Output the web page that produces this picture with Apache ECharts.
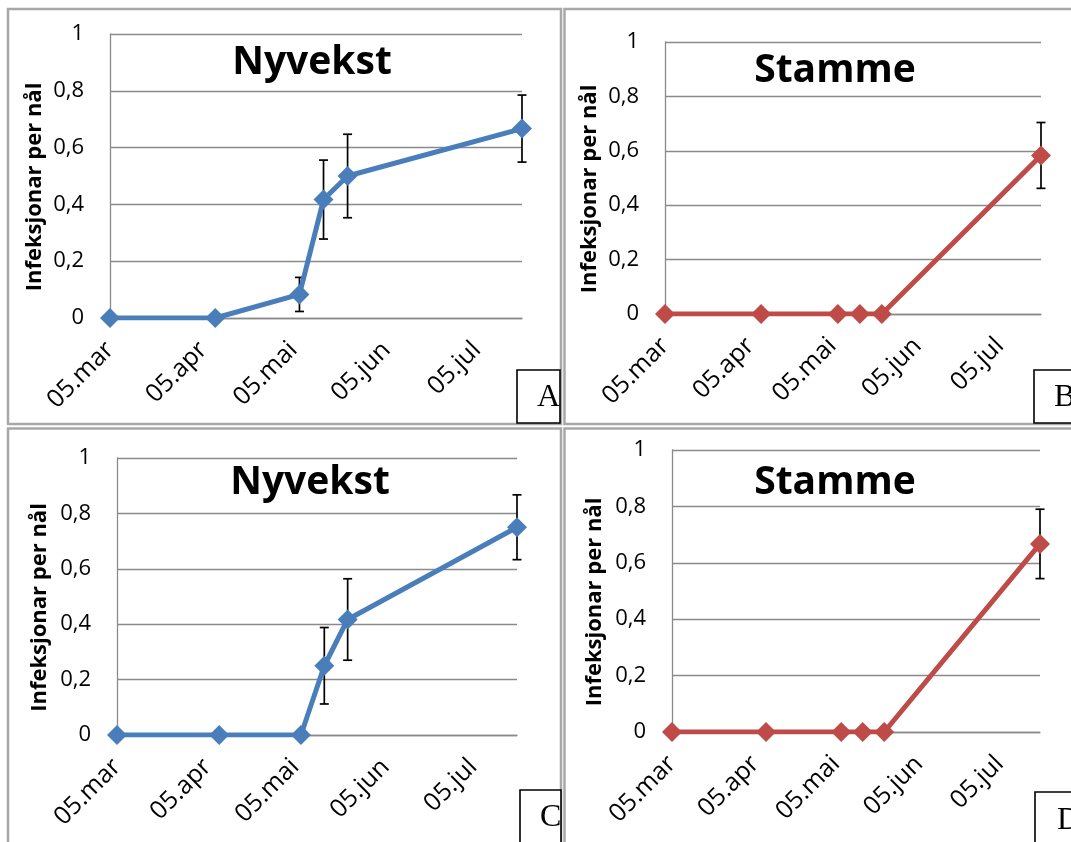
<!DOCTYPE html>
<html>
<head>
<meta charset="utf-8">
<script src="https://cdn.jsdelivr.net/npm/echarts@6/dist/echarts.min.js"></script>
<style>
html,body{margin:0;padding:0;background:#fff;}
#chart{width:1071px;height:842px;}
</style>
</head>
<body>
<div id="chart"></div>
<script>
// ---- data ----
const sampleDates = ['2011-03-05','2011-04-09','2011-05-07','2011-05-15','2011-05-23','2011-07-20'];
const tickDates = ['2011-03-05','2011-04-05','2011-05-05','2011-06-05','2011-07-05'];
const tickLabels = ['05.mar','05.apr','05.mai','05.jun','05.jul'];
const yTickLabels = ['0','0,2','0,4','0,6','0,8','1'];
const panelTitles = ['Nyvekst','Stamme','Nyvekst','Stamme'];
const panelLetters = ['A','B','C','D'];
const yAxisName = 'Infeksjonar per nål';

const valuesA = [0, 0, 0.083, 0.417, 0.5, 0.667];
const errorsA = [0, 0, 0.06, 0.139, 0.147, 0.118];
const valuesB = [0, 0, 0, 0, 0, 0.583];
const errorsB = [0, 0, 0, 0, 0, 0.121];
const valuesC = [0, 0, 0, 0.25, 0.417, 0.75];
const errorsC = [0, 0, 0, 0.138, 0.147, 0.117];
const valuesD = [0, 0, 0, 0, 0, 0.667];
const errorsD = [0, 0, 0, 0, 0, 0.123];

// ---- layout / style ----
const BLUE = '#4A7EBB', RED = '#BE4B48', GRID = '#8a8a8a';
const FONT = '"Open Sans", sans-serif';
const panels = [
  {vals: valuesA, errs: errorsA, color: BLUE, grid: {left: 110, top: 34, width: 412, height: 284}, title: {x: 307, y: 38}, nameGap: 64},
  {vals: valuesB, errs: errorsB, color: RED,  grid: {left: 665, top: 42, width: 376, height: 272}, title: {x: 830, y: 46}, nameGap: 64},
  {vals: valuesC, errs: errorsC, color: BLUE, grid: {left: 117, top: 458, width: 400, height: 277}, title: {x: 305, y: 458}, nameGap: 66},
  {vals: valuesD, errs: errorsD, color: RED,  grid: {left: 672, top: 450, width: 368, height: 282}, title: {x: 830, y: 458}, nameGap: 66}
];

// days since the first sample date (value axis in days)
function dayNum(s) { const p = s.split('-').map(Number); return Math.round(Date.UTC(p[0], p[1]-1, p[2]) / 86400000); }
const day0 = dayNum(sampleDates[0]);
const dayOf = s => dayNum(s) - day0;
const tickDays = tickDates.map(dayOf);

const option = {
  backgroundColor: '#fff',
  animation: false,
  title: panels.map((p, i) => ({
    text: panelTitles[i], left: p.title.x, top: p.title.y, textAlign: 'center',
    textStyle: {fontFamily: FONT, fontWeight: 'bold', fontSize: 39, color: '#000'}
  })),
  grid: panels.map(p => Object.assign({containLabel: false}, p.grid)),
  xAxis: panels.map((p, i) => ({
    type: 'value', gridIndex: i,
    min: 0, max: dayOf(sampleDates[sampleDates.length-1]),
    axisLine: {show: true, onZero: false, lineStyle: {color: GRID, width: 1.3}},
    axisTick: {show: false},
    splitLine: {show: false},
    axisLabel: {
      customValues: tickDays, rotate: 45, margin: 28, fontFamily: FONT, fontSize: 25, color: '#000',
      hideOverlap: false,
      formatter: v => { const k = tickDays.indexOf(Math.round(v)); return k >= 0 ? tickLabels[k] : ''; }
    }
  })),
  yAxis: panels.map((p, i) => ({
    type: 'value', gridIndex: i, min: 0, max: 1, interval: 0.2,
    name: yAxisName, nameLocation: 'middle', nameRotate: 90, nameGap: p.nameGap,
    nameTextStyle: {fontFamily: FONT, fontWeight: 'bold', fontSize: 22, color: '#000', padding: [0, 22, 0, 0]},
    axisLine: {show: true, lineStyle: {color: GRID, width: 1.3}},
    axisTick: {show: false},
    splitLine: {show: true, lineStyle: {color: GRID, width: 1.3}},
    axisLabel: {margin: 26, fontFamily: FONT, fontSize: 22, color: '#000',
      formatter: v => yTickLabels[Math.round(v / 0.2)]}
  })),
  series: [],
  graphic: []
};

panels.forEach((p, i) => {
  option.series.push({
    type: 'custom', xAxisIndex: i, yAxisIndex: i, z: 2,
    data: sampleDates.map((d, k) => [dayOf(d), p.vals[k], p.errs[k]]),
    encode: {x: 0, y: 1},
    renderItem: (params, api) => {
      const x = api.value(0), y = api.value(1), e = api.value(2);
      if (!e) return null;
      const t = api.coord([x, y + e]), b = api.coord([x, y - e]);
      const w = 4.5, st = {stroke: '#000', lineWidth: 1.7};
      return {type: 'group', children: [
        {type: 'line', shape: {x1: t[0], y1: t[1], x2: b[0], y2: b[1]}, style: st},
        {type: 'line', shape: {x1: t[0]-w, y1: t[1], x2: t[0]+w, y2: t[1]}, style: st},
        {type: 'line', shape: {x1: b[0]-w, y1: b[1], x2: b[0]+w, y2: b[1]}, style: st}
      ]};
    }
  });
  option.series.push({
    type: 'line', xAxisIndex: i, yAxisIndex: i, z: 3,
    data: sampleDates.map((d, k) => [dayOf(d), p.vals[k]]),
    symbol: 'diamond', symbolSize: 20,
    lineStyle: {color: p.color, width: 5},
    itemStyle: {color: p.color},
    showSymbol: true
  });
});

// cell borders (table cells)
const cells = [
  {x: 8, y: 9, w: 553, h: 415},
  {x: 564.5, y: 9, w: 520, h: 415},
  {x: 8, y: 428.5, w: 553, h: 420},
  {x: 564.5, y: 428.5, w: 520, h: 420}
];
cells.forEach(c => option.graphic.push({type: 'rect', z: 0, silent: true,
  shape: {x: c.x, y: c.y, width: c.w, height: c.h},
  style: {fill: null, stroke: '#a8a8a8', lineWidth: 2.5}}));

// letter boxes
const boxes = [
  {x: 517, y: 370, w: 43, h: 53, tx: 537, ty: 414},
  {x: 1034, y: 370, w: 60, h: 53, tx: 1054, ty: 414},
  {x: 520, y: 790, w: 41, h: 70, tx: 540, ty: 834},
  {x: 1035, y: 792, w: 60, h: 70, tx: 1057, ty: 837}
];
boxes.forEach((b, i) => {
  option.graphic.push({type: 'rect', z: 10, silent: true,
    shape: {x: b.x, y: b.y, width: b.w, height: b.h},
    style: {fill: '#fff', stroke: '#000', lineWidth: 1.6}});
  option.graphic.push({type: 'text', z: 11, silent: true, x: b.tx, y: b.ty,
    style: {text: panelLetters[i], font: '32px "Liberation Serif", serif', fill: '#000', verticalAlign: 'bottom'}});
});

const chart = echarts.init(document.getElementById('chart'), null, {renderer: 'canvas'});
chart.setOption(option);
</script>
</body>
</html>
